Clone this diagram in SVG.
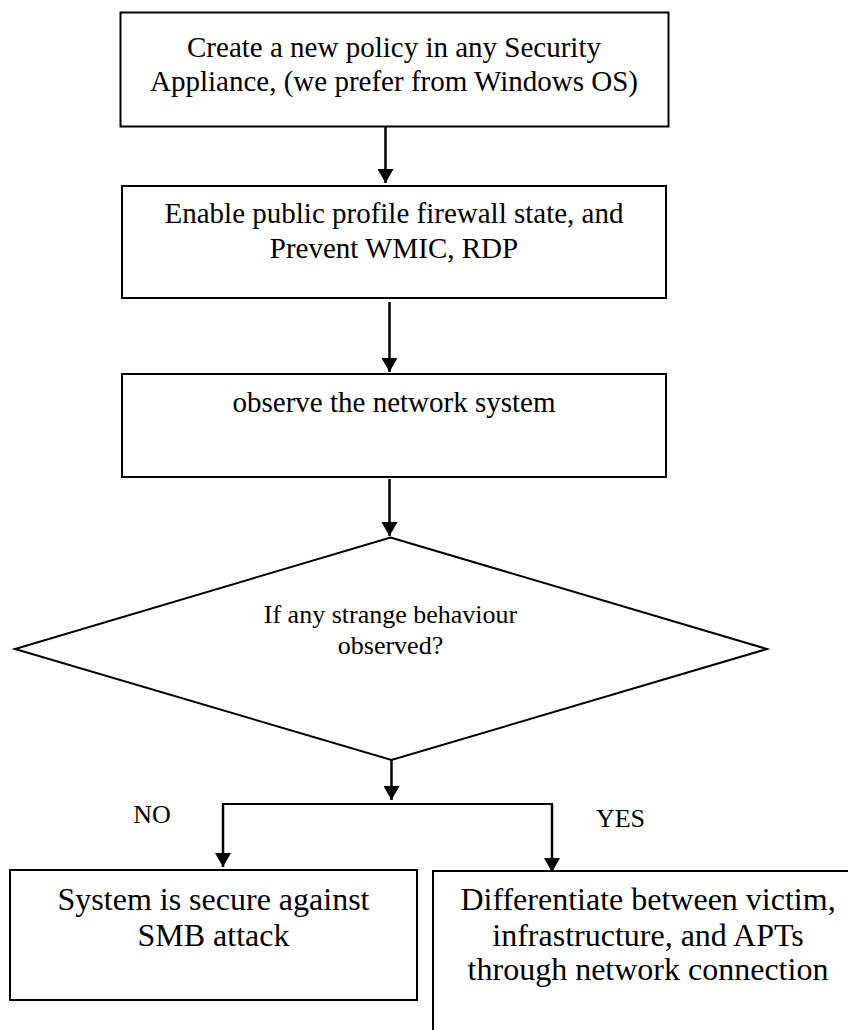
<svg xmlns="http://www.w3.org/2000/svg" width="848" height="1030" viewBox="0 0 848 1030">
<style>
.box{fill:#fff;stroke:#000;stroke-width:2}
.t{font-family:"Liberation Serif","Times New Roman",serif;fill:#000;text-anchor:middle}
.t29{font-size:29px}
.t32{font-size:32px}
.t26{font-size:26px}
.c{fill:none;stroke:#000;stroke-width:2.5}
.h{fill:none;stroke:#000;stroke-width:2}
</style>
<defs>
<marker id="ah" viewBox="0 0 14 16" refX="14" refY="8" markerWidth="14" markerHeight="16" markerUnits="userSpaceOnUse" orient="auto">
<path d="M0,0 L14,8 L0,16 z" fill="#000"/>
</marker>
</defs>
<rect width="848" height="1030" fill="#fff"/>
<g id="n1">
<rect class="box" x="120.5" y="12.5" width="548" height="114"/>
<text class="t t29" x="394" y="57">Create a new policy in any Security</text>
<text class="t t29" x="394" y="91">Appliance, (we prefer from Windows OS)</text>
</g>
<g id="n2">
<rect class="box" x="122" y="186" width="544" height="112"/>
<text class="t t29" x="394" y="223">Enable public profile firewall state, and</text>
<text class="t t29" x="394" y="258">Prevent WMIC, RDP</text>
</g>
<g id="n3">
<rect class="box" x="122" y="374" width="544" height="103"/>
<text class="t t29" x="394" y="412">observe the network system</text>
</g>
<g id="d1">
<polygon class="box" points="390.5,537.5 767,649 391.5,760 15,649"/>
<text class="t t26" x="390.5" y="622.7">If any strange behaviour</text>
<text class="t t26" x="390.5" y="654.3">observed?</text>
</g>
<g id="n4">
<rect class="box" x="10" y="870" width="407" height="130"/>
<text class="t t32" x="213.5" y="910">System is secure against</text>
<text class="t t32" x="213.5" y="946">SMB attack</text>
</g>
<g id="n5">
<rect class="box" x="433" y="871" width="440" height="200"/>
<text class="t t32" x="648" y="910">Differentiate between victim,</text>
<text class="t t32" x="648" y="946">infrastructure, and APTs</text>
<text class="t t32" x="648" y="980">through network connection</text>
</g>
<g id="connectors">
<line class="c" x1="385.5" y1="127" x2="385.5" y2="183" marker-end="url(#ah)"/>
<line class="c" x1="389.5" y1="302" x2="389.5" y2="372" marker-end="url(#ah)"/>
<line class="c" x1="389.5" y1="479" x2="389.5" y2="536" marker-end="url(#ah)"/>
<line class="c" x1="391.5" y1="760" x2="391.5" y2="800" marker-end="url(#ah)"/>
<polyline class="h" points="223,866 223,804 552,804 552,872"/>
<line class="c" x1="223" y1="805" x2="223" y2="867" marker-end="url(#ah)"/>
<line class="c" x1="552" y1="805" x2="552" y2="872" marker-end="url(#ah)"/>
<text class="t t26" x="152" y="823">NO</text>
<text class="t t26" x="620.5" y="827">YES</text>
</g>
</svg>
